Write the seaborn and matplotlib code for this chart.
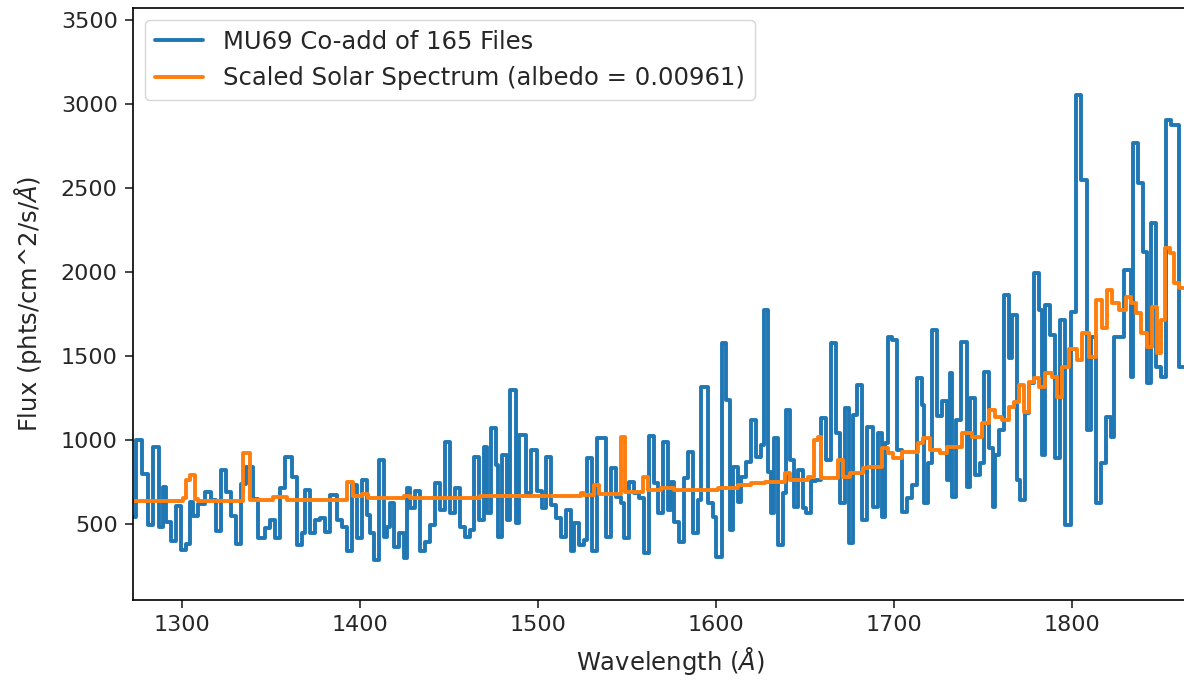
import numpy as np
import pandas as pd
import matplotlib
matplotlib.use("Agg")
import matplotlib.pyplot as plt
import seaborn as sns

# ---- MU69 co-add (step spectrum): left edge wavelength of each bin, flux ----
blue_wl = [
    1272.5, 1274.3, 1277.7, 1280.9, 1283.7, 1287.1, 1289.3, 1291.2, 1294.0, 1296.8,
    1299.6, 1302.4, 1304.3, 1306.2, 1309.0, 1312.7, 1316.5, 1319.3, 1322.1, 1324.9,
    1327.7, 1330.5, 1333.3, 1336.1,
    1340.1, 1342.9, 1346.6, 1349.4, 1352.2, 1355.1, 1357.9, 1361.6, 1364.4, 1367.2,
    1369.1, 1371.9, 1374.7, 1377.5, 1380.3, 1383.1, 1386.9, 1389.7, 1392.5, 1395.3,
    1398.1, 1400.9, 1403.7,
    1405.8, 1407.7, 1410.5, 1413.3, 1415.2, 1417.0, 1418.9, 1421.7, 1424.5, 1426.4,
    1428.3, 1431.1, 1433.9, 1436.7, 1439.5, 1442.3, 1445.1, 1447.9, 1450.7, 1453.6,
    1456.4, 1459.2, 1462.0, 1463.9, 1466.7, 1469.5,
    1471.2, 1473.4, 1476.2, 1477.5, 1480.0, 1482.8, 1484.3, 1487.5, 1489.3, 1493.1,
    1495.9, 1499.6, 1502.4, 1504.7, 1507.1, 1509.9, 1512.7, 1515.5, 1518.4, 1520.2,
    1523.0, 1525.8, 1527.7, 1530.5, 1533.3,
    1538.2, 1541.0, 1543.8, 1546.6, 1548.1, 1551.3, 1554.1, 1556.9, 1559.7, 1562.5,
    1565.4, 1567.2, 1570.0, 1572.8, 1574.7, 1576.6, 1579.4, 1581.8, 1584.1, 1586.9,
    1589.7, 1591.6, 1595.3, 1598.1, 1600.0,
    1603.4, 1605.8, 1607.7, 1609.5, 1612.4, 1614.2, 1617.0, 1619.8, 1622.7, 1625.5,
    1626.8, 1629.2, 1631.1, 1632.6, 1634.8, 1637.6, 1639.5, 1641.8, 1643.8, 1646.1,
    1648.9, 1650.7, 1653.6, 1656.4, 1659.2, 1662.0, 1664.8, 1667.6,
    1669.7, 1672.5, 1674.7, 1677.2, 1679.0, 1681.8, 1684.6, 1688.4, 1691.2, 1693.1,
    1695.0, 1696.5, 1699.1, 1701.5, 1704.3, 1707.1, 1710.0, 1712.7, 1715.6, 1717.0,
    1719.3, 1721.2, 1724.0, 1726.8, 1729.6, 1731.5,
    1732.6, 1734.8, 1737.8, 1741.0, 1742.9, 1745.7, 1748.5, 1750.4, 1753.2, 1755.4,
    1756.9, 1758.8, 1761.6, 1764.4, 1766.3, 1769.1, 1771.0, 1773.8, 1776.0, 1778.5,
    1781.3, 1783.2, 1785.0, 1787.8, 1790.6, 1793.5, 1796.3,
    1799.3, 1802.1, 1804.9, 1808.6, 1810.9, 1813.3, 1816.1, 1818.9, 1821.7, 1823.6,
    1829.2, 1833.0, 1834.5, 1837.1, 1840.1, 1842.3, 1844.6, 1847.0, 1850.2, 1852.6,
    1855.8, 1860.1, 1870.0,
]
blue_flux = [
    540, 1000, 800, 494, 960, 480, 720, 510, 400, 610,
    345, 380, 630, 550, 620, 690, 640, 460, 820, 690,
    550, 380, 740, 840,
    650, 416, 475, 525, 416, 712, 900, 780, 375, 445,
    700, 445, 525, 535, 455, 672, 525, 485, 337, 730,
    416, 760, 555,
    444, 286, 881, 425, 484, 625, 365, 444, 297, 714,
    595, 694, 337, 396, 496, 744, 585, 990, 565, 714,
    484, 425, 464, 900, 525, 960,
    563, 1070, 851, 425, 911, 524, 1298, 504, 1030, 683,
    940, 694, 595, 900, 615, 535, 425, 585, 337, 504,
    377, 406, 893, 337, 1010,
    425, 831, 663, 623, 415, 752, 683, 653, 325, 1022,
    742, 563, 990, 583, 752, 514, 395, 772, 930, 444,
    643, 1313, 623, 544, 304,
    1575, 1238, 464, 841, 633, 782, 871, 1119, 900, 970,
    1774, 811, 563, 1010, 375, 683, 1179, 881, 603, 821,
    593, 563, 754, 762, 1129, 881, 1575, 1040,
    623, 1188, 385, 1149, 1327, 524, 1079, 603, 1040, 544,
    980, 1615, 1595, 940, 573, 653, 732, 1367, 1208, 623,
    861, 1655, 1141, 1230, 762, 1397,
    663, 1119, 1585, 722, 1248, 792, 861, 1407, 952, 603,
    913, 1060, 1863, 1486, 1744, 762, 643, 1159, 1337, 1992,
    1774, 913, 1803, 1625, 893, 1714, 494,
    1764, 3053, 2547, 1060, 1615, 623, 861, 1139, 1020, 1610,
    2012, 1377, 2766, 2527, 2121, 1337, 2290, 1436, 1377, 2905,
    2875, 1436, 1436,
]

# ---- Scaled solar spectrum (step): left edge wavelength, flux ----
solar_wl = [
    1272.5, 1300.6, 1302.4, 1304.3, 1307.1, 1309.0, 1334.3, 1338.0, 1351.3, 1358.8,
    1392.5, 1396.3, 1400.9, 1404.7, 1424.5, 1428.3, 1467.6, 1480.9, 1524.0, 1525.8,
    1531.5, 1534.3, 1546.6, 1548.9, 1558.8, 1561.6, 1569.1, 1576.6, 1601.1, 1612.4,
    1619.8, 1627.3, 1638.6, 1641.4, 1651.7, 1654.9, 1657.3, 1659.2, 1668.7, 1671.5,
    1675.3, 1682.8, 1685.6, 1693.1, 1696.8, 1699.6, 1704.3, 1713.7, 1716.5, 1720.2,
    1725.8, 1729.6, 1738.2, 1743.8, 1749.4, 1753.2, 1756.9, 1760.7, 1764.4, 1767.2,
    1770.0, 1772.9, 1775.7, 1778.5, 1781.3, 1785.0, 1788.8, 1791.6, 1794.4, 1798.1,
    1803.0, 1805.8, 1809.5, 1813.3, 1817.0, 1819.9, 1822.7, 1826.4, 1830.2, 1833.0,
    1835.8, 1838.6, 1842.3, 1845.1, 1847.6, 1850.2, 1852.1, 1855.1, 1857.3, 1860.1,
    1870.0,
]
solar_flux = [
    639, 655, 762, 790, 650, 639, 920, 645, 660, 645,
    752, 665, 680, 655, 668, 655, 668, 665, 683, 670,
    732, 680, 1020, 690, 782, 700, 712, 700, 712, 732,
    742, 752, 802, 762, 782, 1000, 1020, 772, 881, 782,
    802, 831, 841, 950, 921, 891, 931, 980, 1010, 940,
    921, 960, 1040, 1020, 1099, 1178, 1139, 1119, 1198, 1228,
    1327, 1168, 1347, 1367, 1317, 1397, 1377, 1258, 1436, 1540,
    1476, 1635, 1496, 1833, 1665, 1893, 1813, 1774, 1853, 1813,
    1754, 1635, 1555, 1793, 1516, 1714, 2141, 2111, 1932, 1903,
    1903,
]

legend_labels = ["MU69 Co-add of 165 Files", "Scaled Solar Spectrum (albedo = 0.00961)"]
x_ticks = [1300, 1400, 1500, 1600, 1700, 1800]
y_ticks = [500, 1000, 1500, 2000, 2500, 3000, 3500]

blue_df = pd.DataFrame({"wl": blue_wl, "flux": blue_flux})
solar_df = pd.DataFrame({"wl": solar_wl, "flux": solar_flux})

sns.set_style("ticks")
plt.rcParams["font.family"] = ["DejaVu Sans"]
FS_TICK = 16
FS_LABEL = 17.5
FS_LEG = 17.5

W, H = 1184, 684
ax_left, ax_right, ax_top, ax_bottom = 133, 1208, 8, 600
fig = plt.figure(figsize=(W / 100, H / 100), dpi=100)
ax = fig.add_axes([ax_left / W, (H - ax_bottom) / H,
                   (ax_right - ax_left) / W, (ax_bottom - ax_top) / H])

sns.lineplot(data=blue_df, x="wl", y="flux", ax=ax, color="#1f77b4",
             drawstyle="steps-post", estimator=None, sort=False,
             linewidth=2.8, label=legend_labels[0])
sns.lineplot(data=solar_df, x="wl", y="flux", ax=ax, color="#ff7f0e",
             drawstyle="steps-post", estimator=None, sort=False,
             linewidth=2.8, label=legend_labels[1])

ax.set_xlim(1272.5, 1876.4)
ax.set_ylim(48, 3570)
ax.set_xticks(x_ticks)
ax.set_yticks(y_ticks)
ax.tick_params(labelsize=FS_TICK, length=6, width=1.2, direction="out", pad=5)
for s in ax.spines.values():
    s.set_linewidth(1.2)
    s.set_color("black")
ax.set_xlabel(r"Wavelength ($\AA$)", fontsize=FS_LABEL, labelpad=7)
ax.set_ylabel(r"Flux (phts/cm^2/s/$\AA$)", fontsize=FS_LABEL, labelpad=12)
leg = ax.legend(loc="upper left", fontsize=FS_LEG, frameon=True)
for line in leg.get_lines():
    line.set_linewidth(2.8)

fig.savefig("out.png", dpi=100)
